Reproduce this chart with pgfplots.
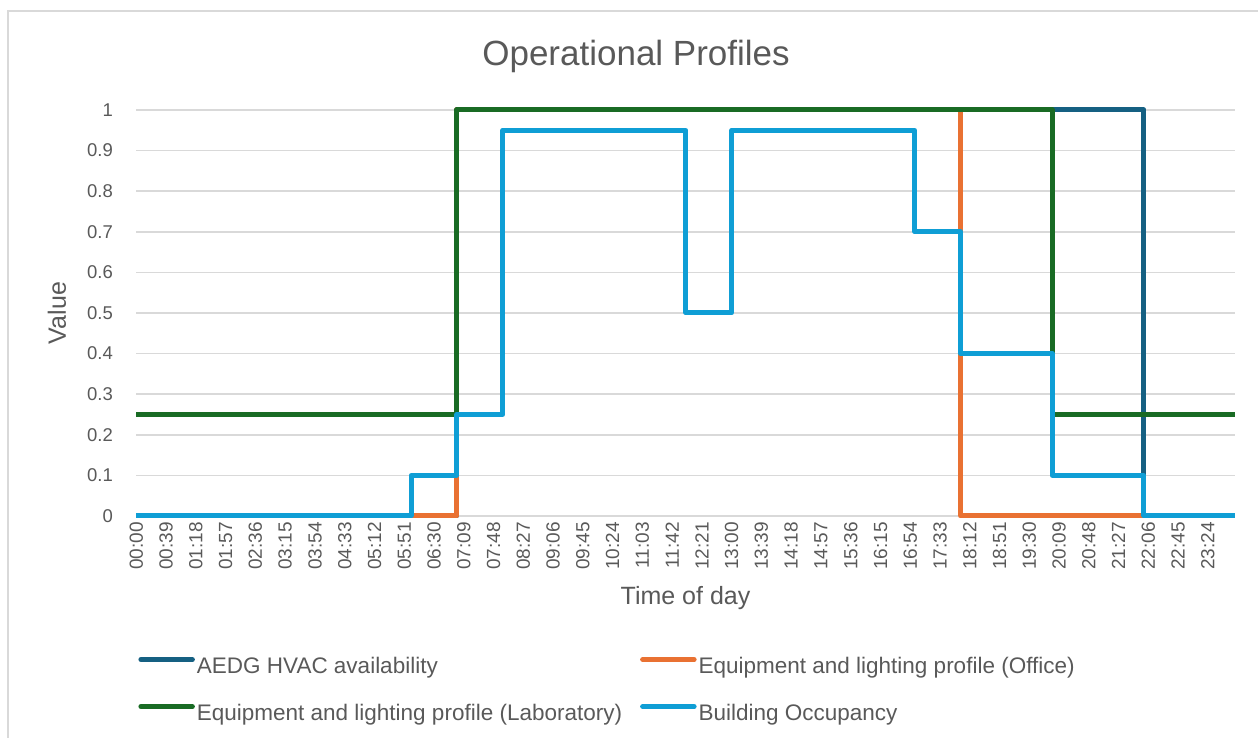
\documentclass[border=0pt]{standalone}
\usepackage{fontspec}
\setmainfont{Liberation Sans}
\usepackage{pgfplots}
\pgfplotsset{compat=1.18}
\definecolor{cnavy}{HTML}{156082}
\definecolor{corange}{HTML}{E97132}
\definecolor{cgreen}{HTML}{196B24}
\definecolor{cblue}{HTML}{0F9ED5}
\definecolor{gridgray}{HTML}{D9D9D9}
\definecolor{txt}{HTML}{595959}
\begin{document}
\begin{tikzpicture}[x=1pt,y=1pt]
\useasboundingbox (0,0) rectangle (1258,738);
\draw[gridgray, line width=1.5pt] (8,-5) -- (8,727) -- (1265,727);
\node[anchor=base, font=\fontsize{35}{38}\selectfont, text=txt] at (636,672) {Operational Profiles};
\begin{axis}[
  at={(136pt,222pt)}, anchor=south west,
  scale only axis, width=1099pt, height=406pt,
  xmin=-0.5, xmax=1439.5, ymin=0, ymax=1,
  clip=false,
  axis line style={draw=none},
  tick style={draw=none},
  major tick length=0pt,
  ymajorgrids=true, xmajorgrids=false,
  grid style={gridgray, line width=1.5pt},
  /pgf/number format/assume math mode=true,
  ytick={0,0.1,0.2,0.3,0.4,0.5,0.6,0.7,0.8,0.9,1},
  yticklabels={0,0.1,0.2,0.3,0.4,0.5,0.6,0.7,0.8,0.9,1},
  y tick label style={font=\fontsize{18.5}{20}\selectfont, text=txt, anchor=east, inner sep=0pt, xshift=-23pt},
  xtick={0,39,78,117,156,195,234,273,312,351,390,429,468,507,546,585,624,663,702,741,780,819,858,897,936,975,1014,1053,1092,1131,1170,1209,1248,1287,1326,1365,1404},
  xticklabels={00:00,00:39,01:18,01:57,02:36,03:15,03:54,04:33,05:12,05:51,06:30,07:09,07:48,08:27,09:06,09:45,10:24,11:03,11:42,12:21,13:00,13:39,14:18,14:57,15:36,16:15,16:54,17:33,18:12,18:51,19:30,20:09,20:48,21:27,22:06,22:45,23:24},
  x tick label style={font=\fontsize{19}{20}\selectfont, text=txt, rotate=90, anchor=east, inner sep=0pt},
  xticklabel shift=6pt,
  xlabel={Time of day},
  xlabel style={at={(axis description cs:0.5,0)}, anchor=base, yshift=-88.3pt, font=\fontsize{25}{28}\selectfont, text=txt},
  ylabel={Value},
  ylabel style={at={(axis description cs:-0.0719,0.5)}, anchor=center, font=\fontsize{25}{28}\selectfont, text=txt},
  legend columns=2,
  legend cell align=left,
  legend style={at={(axis description cs:0.002,-0.347)}, anchor=north west, draw=none, fill=none, inner sep=0pt,
    font=\fontsize{22.5}{25}\selectfont, text=txt,
    nodes={inner xsep=2pt, inner ysep=0pt, text height=16pt, text depth=5pt},
    row sep=26pt,
    /tikz/every even column/.append style={column sep=16pt}},
  legend image code/.code={\draw[#1, line width=5pt, line cap=round] (2.5pt,8pt) -- (54pt,8pt);},
  every axis plot/.append style={line width=5pt, line join=round},
]
\addplot[cnavy] coordinates {(0,0) (420,0) (420,1) (1320,1) (1320,0) (1439,0)};
\addlegendentry{AEDG HVAC availability}
\addplot[corange] coordinates {(0,0) (420,0) (420,1) (1080,1) (1080,0) (1439,0)};
\addlegendentry{Equipment and lighting profile (Office)}
\addplot[cgreen] coordinates {(0,0.25) (420,0.25) (420,1) (1200,1) (1200,0.25) (1439,0.25)};
\addlegendentry{Equipment and lighting profile (Laboratory)}
\addplot[cblue] coordinates {(0,0) (360,0) (360,0.1) (420,0.1) (420,0.25) (480,0.25) (480,0.95) (720,0.95) (720,0.5) (780,0.5) (780,0.95) (1020,0.95) (1020,0.7) (1080,0.7) (1080,0.4) (1200,0.4) (1200,0.1) (1320,0.1) (1320,0) (1439,0)};
\addlegendentry{Building Occupancy}
\end{axis}
\end{tikzpicture}
\end{document}
